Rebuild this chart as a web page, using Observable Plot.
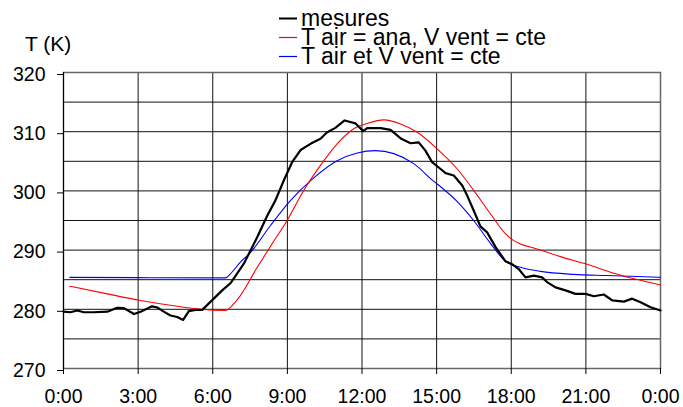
<!DOCTYPE html>
<html>
<head>
<meta charset="utf-8">
<script src="https://cdn.jsdelivr.net/npm/d3@7"></script>
<script src="https://cdn.jsdelivr.net/npm/@observablehq/plot@0.6"></script>
<style>
  html, body { margin: 0; padding: 0; background: #fff; }
  #wrap { position: relative; width: 683px; height: 407px; overflow: hidden; font-family: "Liberation Sans", Arial, sans-serif; }
  #wrap > * { position: absolute; left: 0; top: 0; }
</style>
</head>
<body>
<div id="wrap"></div>
<script>
// ---- data (hours since midnight, temperature in K) ----
const mesuresH = [0, 0.28, 0.55, 0.82, 1.22, 1.76, 2.16, 2.43, 2.83, 3.10, 3.56, 3.77, 4.03, 4.30, 4.57, 4.81, 5.04, 5.31, 5.58, 6.04, 6.38, 6.71, 7.25, 7.79, 8.19, 8.52, 8.86, 9.19, 9.53, 9.93, 10.33, 10.6, 10.93, 11.3, 11.74, 12.05, 12.21, 12.75, 13.15, 13.58, 13.95, 14.28, 14.55, 14.82, 15.16, 15.36, 15.69, 16.03, 16.23, 16.49, 16.76, 17.03, 17.37, 17.77, 18.04, 18.3, 18.57, 18.91, 19.24, 19.44, 19.78, 20.18, 20.58, 20.99, 21.32, 21.72, 22.06, 22.53, 22.86, 23.2, 23.6, 24];
const mesuresT = [279.6, 279.5, 279.8, 279.5, 279.5, 279.6, 280.25, 280.2, 279.2, 279.6, 280.5, 280.3, 279.6, 278.95, 278.7, 278.2, 279.7, 279.9, 279.9, 281.8, 283.2, 284.4, 287.7, 292.2, 295.8, 298.4, 301.8, 304.85, 306.9, 307.95, 308.8, 309.9, 310.65, 311.9, 311.4, 310.1, 310.6, 310.6, 310.3, 308.8, 308.05, 308.2, 306.8, 304.85, 303.7, 303.0, 302.6, 300.9, 299.2, 296.7, 294.0, 293.0, 290.5, 288.1, 287.6, 286.8, 285.4, 285.7, 285.4, 284.6, 283.7, 283.2, 282.6, 282.6, 282.2, 282.5, 281.5, 281.3, 281.8, 281.2, 280.35, 279.8];

const anaH = [0.25, 1.76, 3.1, 4.43, 5.51, 6.51, 6.98, 7.79, 8.45, 8.99, 9.66, 10.33, 11.0, 11.67, 12.21, 12.88, 13.55, 14.22, 15.02, 15.83, 16.49, 17.17, 17.77, 18.1, 18.37, 19.04, 19.98, 21.05, 22.12, 23.2, 24];
const anaT = [283.9, 282.6, 281.5, 280.6, 280.0, 279.8, 281.6, 287.1, 291.5, 295.0, 300.1, 304.3, 307.95, 310.5, 311.4, 312.0, 311.3, 309.9, 307.1, 303.7, 300.1, 296.1, 292.75, 291.6, 291.05, 290.2, 288.9, 287.6, 286.1, 284.9, 284.1];

const cteH = [0.25, 3, 6.51, 6.71, 7.12, 7.52, 8.32, 9.13, 10.06, 11.0, 11.81, 12.54, 13.28, 14.08, 14.89, 15.16, 15.83, 16.49, 17.17, 17.77, 18.37, 19.18, 20.51, 21.85, 24];
const cteT = [285.4, 285.35, 285.3, 286.0, 288.0, 289.6, 294.15, 298.4, 302.2, 305.1, 306.4, 306.8, 306.3, 304.6, 301.6, 300.7, 298.2, 295.0, 291.1, 288.1, 287.1, 286.4, 285.9, 285.7, 285.4];

const xTicks = [0, 3, 6, 9, 12, 15, 18, 21, 24];
const xTickLabels = ["0:00", "3:00", "6:00", "9:00", "12:00", "15:00", "18:00", "21:00", "0:00"];
const yTicks = [270, 280, 290, 300, 310, 320];
const yGrid = [270, 275, 280, 285, 290, 295, 300, 305, 310, 315, 320];

const legendLabels = ["mesures", "T air = ana, V vent = cte", "T air et V vent = cte"];
const legendColors = ["#000000", "#ff0000", "#0000ff"];
const yTitle = "T (K)";

// ---- build ----
const toRows = (hs, ts) => hs.map((h, i) => ({h, t: ts[i]}));
const mesures = toRows(mesuresH, mesuresT);
const ana = toRows(anaH, anaT);
const cte = toRows(cteH, cteT);

const chart = Plot.plot({
  width: 683,
  height: 407,
  marginLeft: 63,
  marginRight: 23,
  marginTop: 72,
  marginBottom: 39,
  style: {fontFamily: "'Liberation Sans', Arial, sans-serif", fontSize: "19.5px", color: "#000", background: "transparent"},
  x: {domain: [0, 24]},
  y: {domain: [270, 320]},
  marks: [
    Plot.ruleY(yGrid, {stroke: "#111", strokeWidth: 1}),
    Plot.ruleX(xTicks, {stroke: "#111", strokeWidth: 1}),
    Plot.frame({stroke: "#666", strokeWidth: 1.5}),
    Plot.ruleX([0], {stroke: "#000", strokeWidth: 1}),
    Plot.axisX(xTicks, {tickSize: 6, tickPadding: 15, label: null, tickFormat: (d, i) => xTickLabels[i], fontSize: 19.5}),
    Plot.axisY(yTicks, {tickSize: 6, tickPadding: 12, label: null, fontSize: 19.5, dy: 2}),
    Plot.line(cte, {x: "h", y: "t", stroke: legendColors[2], strokeWidth: 1.1, curve: "monotone-x"}),
    Plot.line(ana, {x: "h", y: "t", stroke: legendColors[1], strokeWidth: 1.1, curve: "monotone-x"}),
    Plot.line(mesures, {x: "h", y: "t", stroke: legendColors[0], strokeWidth: 2.2, curve: "linear"})
  ]
});

const wrap = document.getElementById("wrap");
wrap.appendChild(chart);

// legend & y title overlay
const svg = d3.select(wrap).append("svg")
  .attr("width", 683).attr("height", 80)
  .style("font-family", "'Liberation Sans', Arial, sans-serif");

svg.append("text").attr("x", 25).attr("y", 51).attr("font-size", 21).attr("fill", "#000").text(yTitle);

legendLabels.forEach((lab, i) => {
  const base = 26 + i * 19;
  svg.append("line").attr("x1", 279).attr("x2", 297)
    .attr("y1", base - 7.5).attr("y2", base - 7.5)
    .attr("stroke", legendColors[i]).attr("stroke-width", i === 0 ? 2 : 1.2);
  svg.append("text").attr("x", 301).attr("y", base).attr("font-size", 23).attr("fill", "#000").text(lab);
});
</script>
</body>
</html>
